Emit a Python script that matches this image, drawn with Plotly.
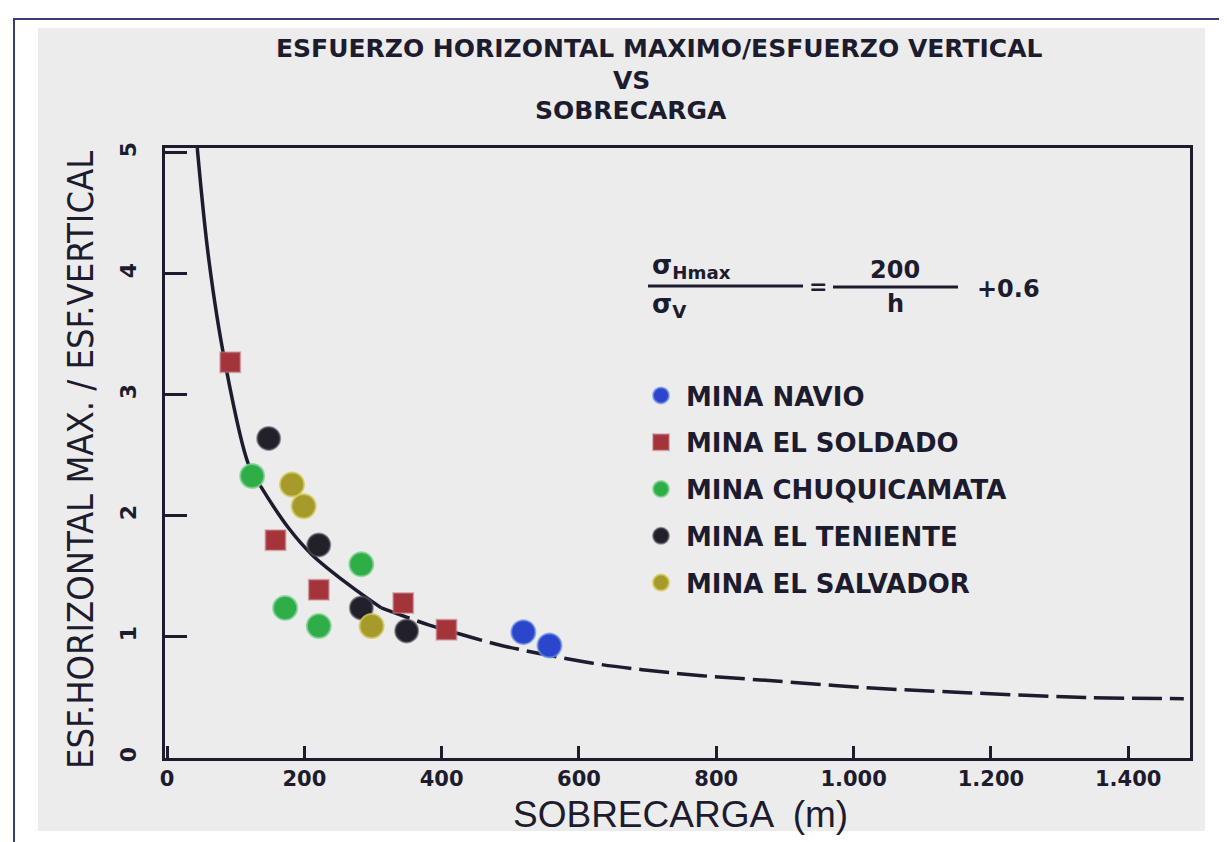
import plotly.graph_objects as go

# ---------------- data ----------------
curve_solid_x = [44, 61, 84, 119, 138, 177, 211, 265, 312]
curve_solid_y = [5.04, 4.11, 3.28, 2.42, 2.23, 1.90, 1.68, 1.43, 1.24]
curve_dash_x = [312, 381, 429, 487, 618, 692, 779, 877, 1020, 1164, 1337, 1481]
curve_dash_y = [1.24, 1.10, 1.02, 0.93, 0.785, 0.73, 0.68, 0.64, 0.58, 0.54, 0.50, 0.49]

navio_x = [519, 557]
navio_y = [1.04, 0.93]
soldado_x = [92, 158, 221, 344, 407]
soldado_y = [3.27, 1.80, 1.39, 1.28, 1.06]
chuqui_x = [124, 283, 172, 221]
chuqui_y = [2.33, 1.60, 1.24, 1.09]
teniente_x = [148, 221, 283, 349]
teniente_y = [2.64, 1.76, 1.24, 1.05]
salvador_x = [182, 199, 298]
salvador_y = [2.26, 2.08, 1.09]

x_tickvals = [0, 200, 400, 600, 800, 1000, 1200, 1400]
x_ticktext = ["0", "200", "400", "600", "800", "1.000", "1.200", "1.400"]
y_tickvals = [0, 1, 2, 3, 4, 5]

INK = "#1d1b2e"
BOLD = "DejaVu Sans"
NARROW = "Liberation Sans Narrow, DejaVu Sans Condensed, Liberation Sans, Arial"
REG = "Liberation Sans, Arial"

fig = go.Figure()

fig.add_trace(go.Scatter(x=curve_solid_x, y=curve_solid_y, mode="lines",
                         line=dict(color=INK, width=3.5, shape="spline"),
                         showlegend=False, hoverinfo="skip"))
fig.add_trace(go.Scatter(x=curve_dash_x, y=curve_dash_y, mode="lines",
                         line=dict(color=INK, width=3.5, shape="spline", dash="30px,8px"),
                         showlegend=False, hoverinfo="skip"))

series = [
    ("MINA NAVIO", navio_x, navio_y, "circle", "#2b45cc", 24, "rgba(110,150,230,0.7)"),
    ("MINA EL SOLDADO", soldado_x, soldado_y, "square", "#a5333a", 20, "rgba(190,120,130,0.5)"),
    ("MINA CHUQUICAMATA", chuqui_x, chuqui_y, "circle", "#2fae48", 24, "rgba(130,210,150,0.8)"),
    ("MINA EL TENIENTE", teniente_x, teniente_y, "circle", "#222129", 23, "rgba(90,90,100,0.6)"),
    ("MINA EL SALVADOR", salvador_x, salvador_y, "circle", "#a69a2a", 24, "rgba(210,200,90,0.8)"),
]
for i, (name, xs, ys, sym, col, size, halo) in enumerate(series):
    fig.add_trace(go.Scatter(
        x=xs, y=ys, mode="markers", name=name, legendgroup=f"g{i}",
        marker=dict(symbol=sym, color=col, size=size, line=dict(color=halo, width=2)),
    ))

# ---------------- layout ----------------
L, R, T, B = 157, 45, 140, 92
W, H = 1227, 842
pw, ph = W - L - R, H - T - B


def px(xp):
    return (xp - L) / pw


def py(yp):
    return (H - B - yp) / ph


shapes = [
    dict(type="rect", xref="paper", yref="paper", x0=px(30), x1=px(1197), y0=py(823), y1=py(20),
         fillcolor="#ececec", line=dict(width=0), layer="below"),
    dict(type="rect", xref="paper", yref="paper", x0=px(6), x1=px(1222), y0=py(836), y1=py(11),
         fillcolor="rgba(0,0,0,0)", line=dict(color="#3b3b78", width=2), layer="below"),
    # fraction bars of the formula
    dict(type="line", xref="paper", yref="paper", x0=px(640), x1=px(795), y0=py(278), y1=py(278),
         line=dict(color=INK, width=3)),
    dict(type="line", xref="paper", yref="paper", x0=px(825), x1=px(950), y0=py(279), y1=py(279),
         line=dict(color=INK, width=3)),
]

ann = []


def text(s, xp, yp, size, family=BOLD, angle=0, bold=True, xanchor="center"):
    ann.append(dict(text=s, xref="paper", yref="paper",
                    x=px(xp), y=py(yp), xanchor=xanchor, yanchor="middle", showarrow=False,
                    textangle=angle,
                    font=dict(family=family, size=size, color=INK,
                              weight="bold" if bold else "normal")))


text("ESFUERZO HORIZONTAL MAXIMO/ESFUERZO VERTICAL", 651, 40, 25)
text("VS", 623, 72, 25)
text("SOBRECARGA", 623, 102, 25)
text("ESF.HORIZONTAL MAX. / ESF.VERTICAL", 72, 452, 36, family=NARROW, angle=-90, bold=False)
text("SOBRECARGA  (m)", 672, 806, 37, family=REG, bold=False)
# formula
text("σ<sub>Hmax</sub>", 642, 258, 26, xanchor="left")
text("σ<sub>V</sub>", 642, 297, 26, xanchor="left")
text("=", 810, 278, 22)
text("200", 887, 262, 24)
text("h", 887, 296, 24)
text("+0.6", 1000, 281, 24)

fig.update_layout(
    width=W, height=H,
    margin=dict(l=L, r=R, t=T, b=B, autoexpand=False),
    paper_bgcolor="white",
    plot_bgcolor="rgba(0,0,0,0)",
    shapes=shapes,
    annotations=ann,
    showlegend=True,
    legend=dict(x=px(628), y=py(364), xanchor="left", yanchor="top",
                bgcolor="rgba(0,0,0,0)", traceorder="grouped", tracegroupgap=10,
                font=dict(family=BOLD, size=26, color=INK, weight="bold"), itemwidth=40),
    xaxis=dict(range=[-3, 1490], tickvals=x_tickvals, ticktext=x_ticktext,
               ticks="inside", ticklen=12, tickwidth=3, tickcolor=INK,
               showline=True, linecolor=INK, linewidth=3, mirror=True,
               showgrid=False, zeroline=False,
               tickfont=dict(family=BOLD, size=21, color=INK, weight="bold")),
    yaxis=dict(range=[0, 5.04], tickvals=y_tickvals,
               ticks="inside", ticklen=22, tickwidth=3, tickcolor=INK,
               showline=True, linecolor=INK, linewidth=3, mirror=True,
               showgrid=False, zeroline=False, tickangle=-90, ticklabelstandoff=17,
               tickfont=dict(family=BOLD, size=22, color=INK, weight="bold")),
)

fig.write_html("out.html")
